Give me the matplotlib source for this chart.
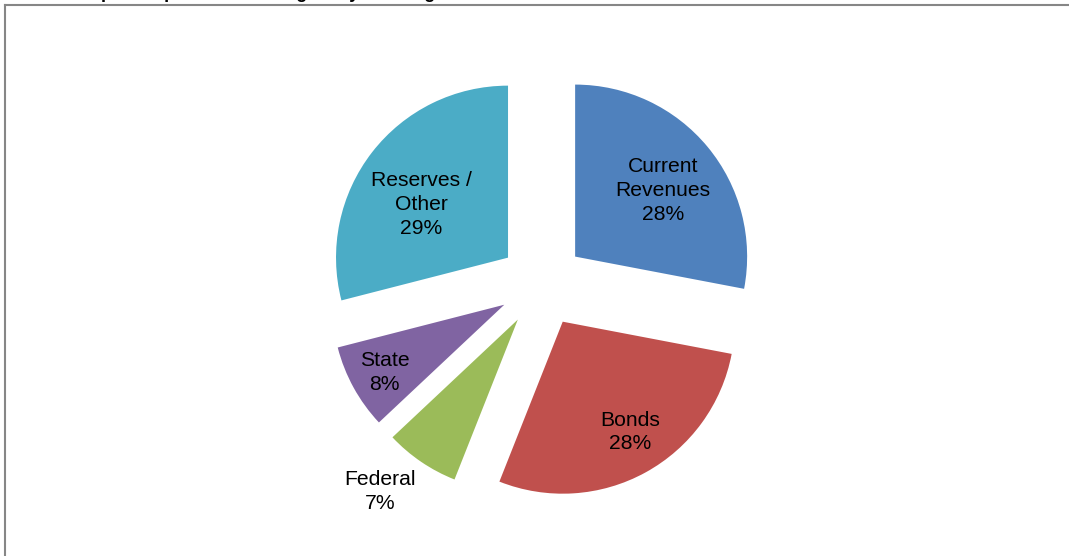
import matplotlib

matplotlib.use("Agg")

import matplotlib.pyplot as plt
import numpy as np
from matplotlib.lines import Line2D

categories = ["Current\nRevenues", "Bonds", "Federal", "State", "Reserves /\nOther"]
shares = [28, 28, 7, 8, 29]
colors = ["#4F81BD", "#C0504D", "#9BBB59", "#8064A2", "#4BACC6"]
title = "Capital Improvement Budgets by Funding Source"

# label distance from each exploded wedge apex, in radii
label_dist = [0.64, 0.75, 1.28, 0.80, 0.59]
label_shift = [-2.7, 2.5, -4.5, 0.9, 6.2]  # degrees off the wedge bisector

W, H, DPI = 1069, 556, 100
CX, CY, R = 542, 284, 172  # pie centre (px from left/top) and radius

plt.rcParams["font.family"] = ["Liberation Sans", "DejaVu Sans"]

fig = plt.figure(figsize=(W / DPI, H / DPI), dpi=DPI)
ax = fig.add_axes([0, 0, 1, 1])
ax.axis("off")

wedges, _ = ax.pie(
    shares,
    colors=colors,
    startangle=90,
    counterclock=False,
    explode=[0.25] * len(shares),
    radius=1.0,
    wedgeprops={"linewidth": 0},
)

for wedge, name, share, dist, shift in zip(wedges, categories, shares, label_dist, label_shift):
    mid = np.deg2rad((wedge.theta1 + wedge.theta2) / 2 + shift)
    cx, cy = wedge.center
    ax.text(
        cx + dist * np.cos(mid),
        cy + dist * np.sin(mid),
        f"{name}\n{share}%",
        ha="center",
        va="center",
        fontsize=15.2,
        linespacing=1.32,
        color="black",
    )

ax.set_aspect("auto")
ax.set_xlim(-CX / R, (W - CX) / R)
ax.set_ylim(-(H - CY) / R, CY / R)

# chart-area frame (only top and left edges are in view)
fig.add_artist(Line2D([4.5 / W, 4.5 / W], [0, 1 - 4.5 / H], transform=fig.transFigure,
                      color="#868686", linewidth=1.5))
fig.add_artist(Line2D([4.5 / W, 1], [1 - 4.5 / H, 1 - 4.5 / H], transform=fig.transFigure,
                      color="#868686", linewidth=1.5))

# title sits above the canvas; only its descenders show
fig.text(78 / W, 1 + 2.1 / H, title, ha="left", va="baseline",
         fontsize=13, fontweight="bold")

fig.savefig("out.png", dpi=DPI)
plt.close(fig)
